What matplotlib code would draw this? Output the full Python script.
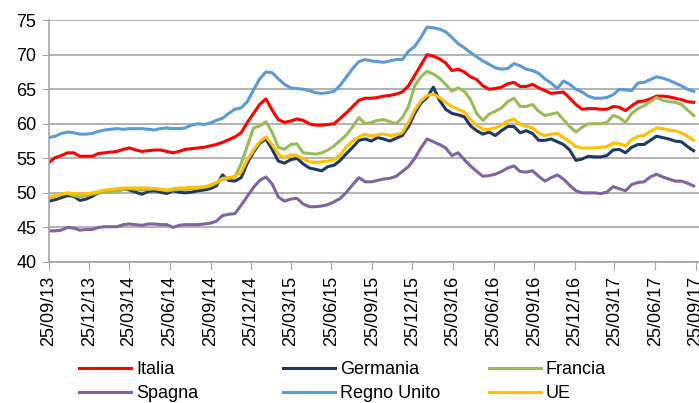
import matplotlib
matplotlib.use('Agg')
import matplotlib.pyplot as plt
import matplotlib.dates as mdates
import pandas as pd

plt.rcParams['font.family'] = ['Liberation Sans', 'DejaVu Sans']

# fortnightly readings, 25/09/2013 -> 20/09/2017
dates = pd.date_range('2013-09-25', periods=105, freq='14D')

italia = [54.4, 55.1, 55.4, 55.8, 55.8, 55.3, 55.3, 55.3, 55.7, 55.8,
          55.9, 56.0, 56.3, 56.5, 56.2, 56.0, 56.1, 56.2, 56.2, 56.0,
          55.8, 56.0, 56.3, 56.4, 56.5, 56.6, 56.8, 57.0, 57.3, 57.7,
          58.1, 58.7, 60.2, 61.5, 62.8, 63.6, 62.0, 60.6, 60.2, 60.4,
          60.7, 60.5, 60.0, 59.8, 59.8, 59.9, 60.0, 60.8, 61.6, 62.5,
          63.4, 63.7, 63.7, 63.8, 64.0, 64.1, 64.3, 64.6, 65.5, 67.0,
          68.5, 70.0, 69.8, 69.4, 68.8, 67.7, 67.9, 67.5, 66.8, 66.4,
          65.5, 65.0, 65.1, 65.3, 65.8, 66.0, 65.4, 65.4, 65.7, 65.2,
          64.8, 64.4, 64.5, 64.6, 63.7, 62.8, 62.1, 62.2, 62.2, 62.1,
          62.1, 62.5, 62.4, 61.9, 62.6, 63.2, 63.3, 63.6, 64.0, 64.0,
          63.9, 63.7, 63.5, 63.2, 63.1]

germania = [48.8, 49.0, 49.3, 49.6, 49.5, 48.9, 49.1, 49.5, 50.0, 50.2,
            50.2, 50.3, 50.6, 50.4, 50.1, 49.8, 50.2, 50.3, 50.1, 49.9,
            50.3, 50.1, 50.0, 50.1, 50.3, 50.4, 50.6, 51.0, 52.6, 51.8,
            51.7, 52.2, 54.3, 55.9, 57.2, 57.8, 56.3, 54.6, 54.3, 54.8,
            55.0, 54.2, 53.6, 53.4, 53.2, 53.8, 54.0, 54.7, 55.7, 56.6,
            57.6, 57.8, 57.5, 58.0, 57.8, 57.5, 57.9, 58.3, 59.6, 61.5,
            63.0, 63.8, 65.3, 63.4, 62.1, 61.5, 61.3, 61.0, 59.7, 59.0,
            58.5, 58.8, 58.3, 59.0, 59.6, 59.6, 58.7, 59.0, 58.6, 57.6,
            57.6, 57.8, 57.4, 57.0, 56.2, 54.7, 54.9, 55.3, 55.2, 55.2,
            55.4, 56.2, 56.3, 55.8, 56.6, 57.0, 57.0, 57.6, 58.2, 58.0,
            57.8, 57.5, 57.4, 56.7, 56.1]

francia = [49.2, 49.5, 49.8, 49.9, 49.6, 49.4, 49.6, 49.8, 50.0, 50.1,
           50.2, 50.2, 50.5, 50.6, 50.5, 50.4, 50.5, 50.6, 50.5, 50.3,
           50.4, 50.5, 50.5, 50.6, 50.7, 50.8, 51.0, 51.4, 52.0, 52.1,
           52.3, 54.2, 56.8, 59.4, 59.7, 60.3, 58.8, 56.6, 56.3, 57.0,
           57.1, 55.8, 55.7, 55.6, 55.8, 56.2, 56.8, 57.6, 58.4, 59.6,
           60.9, 60.0, 60.2, 60.5, 60.6, 60.3, 60.0, 60.9, 62.5, 65.5,
           66.8, 67.6, 67.2, 66.6, 65.7, 64.7, 65.2, 64.7, 63.5, 61.5,
           60.5, 61.4, 61.8, 62.3, 63.2, 63.7, 62.5, 62.5, 62.8, 61.8,
           61.2, 61.4, 61.6, 60.6, 59.6, 58.8, 59.5, 60.0, 60.0, 60.0,
           60.2, 61.2, 60.9, 60.2, 61.5, 62.2, 62.6, 63.2, 63.8, 63.4,
           63.2, 63.1, 62.8, 62.0, 61.2]

spagna = [44.5, 44.5, 44.6, 45.0, 44.9, 44.6, 44.7, 44.7, 45.0, 45.1,
          45.1, 45.1, 45.4, 45.5, 45.4, 45.3, 45.5, 45.5, 45.4, 45.4,
          45.0, 45.3, 45.4, 45.4, 45.4, 45.5, 45.6, 45.9, 46.7, 46.9,
          47.0, 48.2, 49.5, 50.8, 51.8, 52.3, 51.3, 49.4, 48.8, 49.1,
          49.2, 48.4, 48.0, 48.0, 48.1, 48.3, 48.7, 49.2, 50.1, 51.2,
          52.2, 51.6, 51.6, 51.8, 52.0, 52.1, 52.4, 53.1, 53.8, 55.0,
          56.5, 57.8, 57.4, 57.0, 56.5, 55.4, 55.8, 54.8, 53.9, 53.1,
          52.4, 52.5, 52.7, 53.1, 53.6, 53.9, 53.1, 53.0, 53.2, 52.4,
          51.7, 52.2, 52.6, 52.0, 51.1, 50.3, 50.0, 50.0, 50.0, 49.9,
          50.1, 50.9, 50.6, 50.3, 51.2, 51.5, 51.6, 52.3, 52.7, 52.3,
          52.0, 51.7, 51.7, 51.4, 51.0]

regno_unito = [58.0, 58.2, 58.6, 58.8, 58.7, 58.5, 58.5, 58.6, 58.9, 59.1,
               59.2, 59.3, 59.2, 59.3, 59.3, 59.3, 59.2, 59.1, 59.3, 59.4,
               59.3, 59.3, 59.4, 59.8, 60.0, 59.9, 60.1, 60.5, 60.8, 61.5,
               62.1, 62.3, 63.2, 64.9, 66.5, 67.5, 67.4, 66.5, 65.7, 65.2,
               65.1, 65.0, 64.8, 64.5, 64.4, 64.5, 64.7, 65.6, 66.8, 68.0,
               69.0, 69.3, 69.1, 69.0, 68.9, 69.1, 69.3, 69.3, 70.5, 71.2,
               72.5, 74.0, 73.9, 73.7, 73.3, 72.5, 71.6, 71.0, 70.3, 69.7,
               69.1, 68.6, 68.1, 67.9, 68.0, 68.7, 68.4, 67.9, 67.7, 67.3,
               66.5, 65.9, 65.1, 66.2, 65.7, 65.0, 64.6, 64.0, 63.7, 63.7,
               63.8, 64.2, 65.0, 64.9, 64.8, 65.9, 66.0, 66.4, 66.8, 66.6,
               66.3, 65.9, 65.5, 65.0, 64.7]

ue = [49.3, 49.6, 49.8, 50.0, 49.9, 49.8, 49.9, 50.0, 50.2, 50.4,
      50.5, 50.6, 50.7, 50.7, 50.7, 50.7, 50.7, 50.6, 50.5, 50.4,
      50.6, 50.7, 50.7, 50.8, 50.8, 50.9, 51.1, 51.5, 52.1, 52.2,
      52.4, 53.0, 54.8, 56.2, 57.4, 58.1, 57.0, 55.6, 55.1, 55.5,
      55.4, 54.9, 54.5, 54.4, 54.5, 54.6, 54.8, 55.5, 56.7, 57.5,
      58.1, 58.5, 58.2, 58.4, 58.5, 58.3, 58.4, 58.7, 60.2, 62.0,
      63.3, 64.1, 64.3, 63.8, 63.1, 62.5, 62.1, 61.7, 60.6, 59.8,
      59.2, 59.2, 59.4, 59.8, 60.4, 60.7, 59.9, 59.6, 59.4, 58.6,
      58.3, 58.5, 58.6, 58.0, 57.4, 56.7, 56.5, 56.5, 56.5, 56.6,
      56.7, 57.2, 57.1, 56.8, 57.7, 58.2, 58.3, 58.9, 59.4, 59.3,
      59.1, 59.0, 58.7, 58.2, 57.6]

names = ['Italia', 'Germania', 'Francia', 'Spagna', 'Regno Unito', 'UE']
colors = ['#FF0000', '#1F3864', '#9BBB59', '#8064A2', '#5B9BD5', '#FFC000']
series = [italia, germania, francia, spagna, regno_unito, ue]

fig = plt.figure(figsize=(6.99, 4.03), dpi=100)
ax = fig.add_axes([0.070, 0.350, 0.930, 0.600])

lines = {}
for name, vals, col in zip(names, series, colors):
    lines[name], = ax.plot(dates, vals, color=col, lw=2.2, label=name)

grid_col = '#A6A6A6'
ax.set_ylim(40, 75)
ax.set_yticks(range(40, 80, 5))
ax.set_xlim(pd.Timestamp('2013-09-25'), pd.Timestamp('2017-10-02'))
ticks = pd.date_range('2013-09-25', '2017-09-25', freq=pd.DateOffset(months=3))
ax.set_xticks(ticks)
ax.xaxis.set_major_formatter(mdates.DateFormatter('%d/%m/%y'))
ax.tick_params(axis='x', rotation=90, labelsize=13, length=6, color=grid_col, pad=4)
ax.tick_params(axis='y', labelsize=13, length=5, color=grid_col, pad=4)
ax.yaxis.grid(True, color=grid_col, lw=1.2)
ax.set_axisbelow(True)
for s in ['top', 'right']:
    ax.spines[s].set_visible(False)
for s in ['left', 'bottom']:
    ax.spines[s].set_color(grid_col)
    ax.spines[s].set_linewidth(1.2)

# legend: three columns of two entries each
cols = [('Italia', 'Spagna'), ('Germania', 'Regno Unito'), ('Francia', 'UE')]
xs = [79, 283, 489]
for (a, b), x in zip(cols, xs):
    fig.legend([lines[a], lines[b]], [a, b], loc='upper left',
               bbox_to_anchor=(x / 699, 1 - 361 / 403), frameon=False,
               fontsize=13, handlelength=2.9, handletextpad=0.25,
               labelspacing=0.4, borderpad=0, borderaxespad=0)

fig.savefig('out.png', dpi=100)
